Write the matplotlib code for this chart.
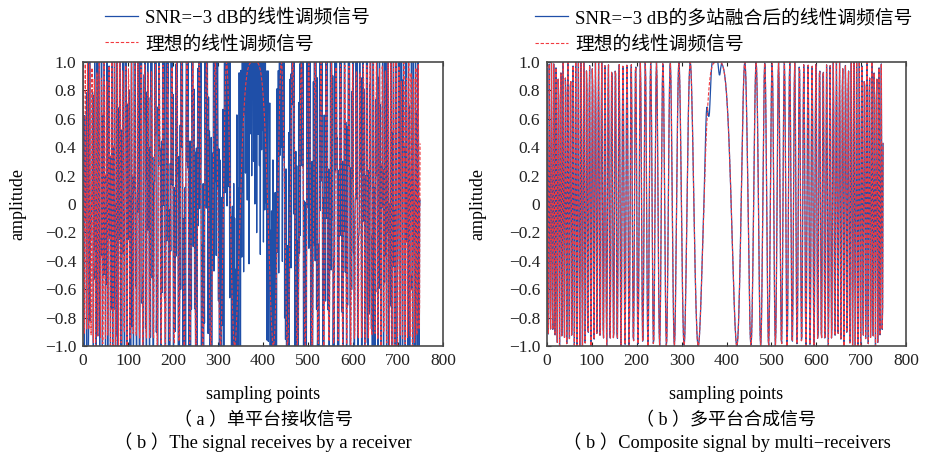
"""Single-receiver vs. multi-receiver LFM signal comparison (two panels)."""

import matplotlib

matplotlib.use("Agg")
import matplotlib.pyplot as plt
import numpy as np

plt.rcParams["font.family"] = ["Liberation Serif", "Noto Sans CJK SC"]
plt.rcParams["axes.unicode_minus"] = True

# ---------------------------------------------------------------------------
# Signal data
# ---------------------------------------------------------------------------

N_SAMPLES = 750
CHIRP_CENTER = 380        # sample where the instantaneous frequency is zero
CHIRP_HALF_PERIOD = 43    # samples from the central peak to the first trough

# additive noise on the single receiver, in tenths of the unit amplitude
NOISE_SINGLE = [
    3, -7, 12, -2, 5, -11, 0, 8, -4, 6, -9, 14, -3, 1, -6, 10, -13, 4, 7, -1, -8, 2, 11, -5, 9, -12, 3, -2, 6, -7,
    -4, 13, -9, 0, 5, -6, 8, -15, 2, 7, -3, 10, -1, -8, 4, 12, -10, 6, -2, 9, -5, 1, -14, 3, 8, -7, 11, -4, 0, -9,
    7, -2, 5, -12, 9, 1, -6, 14, -3, -8, 6, 2, -11, 10, -5, 3, 8, -1, -13, 4, 12, -7, 0, 6, -9, 15, -4, 2, -6, 11,
    -3, 8, -10, 1, 6, -5, 13, -2, -7, 9, 4, -12, 0, 7, -4, 10, -8, 3, 5, -15, 2, 11, -6, -1, 8, -9, 12, -3, 6, -11,
    2, -5, 9, -7, 14, -1, -10, 4, 7, -3, 11, -8, 0, 5, -13, 6, 1, -4, 10, -6, 3, -9, 12, -2, 8, -11, 4, 0, -7, 13,
    -6, 10, -2, 4, -9, 7, -14, 3, 6, -1, 9, -5, 12, -8, 1, 5, -10, 8, -3, 15, -4, 0, 7, -12, 2, 11, -6, 4, -1, -9,
    8, -4, 1, -11, 6, 12, -7, 3, -2, 10, -13, 5, 0, -6, 9, -3, 14, -8, 2, -5, 7, -10, 4, 11, -1, -7, 6, -12, 3, 9,
    -2, 5, -8, 13, -4, 0, 7, -10, 11, -6, 2, 8, -15, 4, -1, 9, -5, 6, -11, 3, 12, -7, 1, -3, 10, -9, 5, -2, 14, -6,
    4, -9, 11, -3, 7, -12, 1, 6, -5, 10, -1, -8, 13, -4, 3, 8, -7, 0, 12, -10, 5, -2, 9, -14, 2, 6, -6, 11, -3, 1,
    -7, 12, -1, 5, -10, 3, 9, -4, -13, 7, 0, 11, -6, 4, -2, 14, -9, 1, 6, -5, 10, -11, 3, -8, 8, 2, -12, 5, -3, 9,
    6, -3, 10, -8, 1, 13, -5, 2, -11, 7, -4, 9, 0, -14, 5, 11, -7, 3, -1, 8, -10, 4, 12, -6, -2, 7, -9, 15, -4, 2,
    -10, 4, 7, -1, -6, 11, -3, 9, -12, 5, 2, -8, 14, -5, 0, 6, -9, 12, -2, 3, -13, 8, 1, -7, 10, -4, 5, -11, 7, -1,
    9, -6, 2, 12, -4, -9, 6, -1, 10, -14, 3, 7, -5, 0, 11, -8, 4, -2, 13, -7, 1, 8, -10, 5, -3, 9, -12, 2, 6, -5,
    -1, 11, -7, 4, -13, 8, 0, -5, 12, -3, 6, -10, 2, 9, -6, 15, -4, -1, 7, -11, 3, 10, -8, 1, -2, 12, -9, 5, -6, 8,
    3, -8, 13, -2, 6, -10, 1, 9, -7, 4, -12, 11, 0, -4, 7, -9, 2, 14, -5, -1, 10, -6, 5, -13, 8, -3, 1, 12, -8, 4,
    -5, 9, -1, -12, 7, 3, -8, 13, -4, 0, 10, -6, 5, -11, 2, 8, -3, 11, -9, 6, -1, -14, 4, 9, -5, 12, -2, 7, -10, 1,
    10, -4, 6, -9, 2, 14, -7, 1, -3, 11, -12, 5, 8, -1, -6, 9, -10, 3, 12, -5, 0, 7, -13, 4, -2, 10, -8, 6, -4, 13,
    -8, 2, 11, -5, 8, -1, -14, 6, 3, -9, 12, -3, 1, 7, -11, 4, 10, -6, -2, 13, -7, 5, 0, -10, 9, -4, 15, -1, 6, -12,
    5, -11, 3, 9, -6, 1, 12, -8, 4, -2, 7, -13, 10, 0, -5, 11, -3, 6, -9, 2, 14, -4, -7, 8, -1, 5, -10, 12, -6, 3,
    -3, 7, -12, 4, 10, -5, 0, 13, -8, 2, -6, 9, -1, -11, 6, 3, -9, 14, -4, 1, 8, -7, 11, -2, -13, 5, 10, -5, 2, -8,
    12, -6, 1, -10, 8, 4, -3, 11, -9, 6, -1, -14, 7, 2, -5, 10, -7, 3, 13, -2, -8, 5, 9, -11, 0, 6, -4, 12, -3, -7,
    4, -1, 9, -13, 5, 11, -6, 2, -9, 14, -4, 0, 7, -10, 3, 8, -2, -12, 10, -5, 6, 1, -8, 13, -3, 4, -11, 9, -1, 7,
    -9, 13, -3, 6, -1, -10, 8, 2, -7, 11, -5, 4, -13, 9, 0, -4, 12, -8, 5, 1, -6, 10, -2, -11, 7, 3, -9, 15, -5, 2,
    6, -10, 4, 1, -7, 12, -3, 9, -12, 5, 0, -6, 11, -1, 8, -14, 3, 7, -4, 10, -8, 2, 13, -6, -1, 9, -11, 4, 6, -3,
    -2, 8, -9, 11, -4, 3, -13, 7, 1, -6, 10, -2, 5, -10, 12, -7, 0, 4, -5, 9, -12, 6, 2, -8, 14, -3, 1, -9, 7, -4,
]

# residual left after multi-receiver fusion, in hundredths, starting at sample 350
FUSED_RESIDUAL_START = 350
FUSED_RESIDUAL = [
    0, 3, 7, 11, 14, 15, 12, 6, -2, -10, -16, -20, -21, -18, -13, -7, -2, 1, 3, 3,
    2, 1, 0, 0, 0, 0, 0, 1, 2, 2, 1, -1, -4, -7, -9, -9, -7, -4, -2, 0,
    0, 0, 0, 0, 0, 0, 0, 0, 0, 0,
]

X_TICKS = [0, 100, 200, 300, 400, 500, 600, 700, 800]
Y_TICKS = [-1.0, -0.8, -0.6, -0.4, -0.2, 0, 0.2, 0.4, 0.6, 0.8, 1.0]

LEGEND_NOISY = ["SNR=\u22123 dB的线性调频信号", "SNR=\u22123 dB的多站融合后的线性调频信号"]
LEGEND_IDEAL = "理想的线性调频信号"
CAPTIONS_CN = ["（ a ）单平台接收信号", "（ b ）多平台合成信号"]
CAPTIONS_EN = ["（ b ）The signal receives by a receiver", "（ b ）Composite signal by multi\u2212receivers"]

BLUE = "#1f4fa8"
RED = "#f23a3f"
SPINE = "#4a4a4a"

# ---------------------------------------------------------------------------
# Build series
# ---------------------------------------------------------------------------

n = np.arange(N_SAMPLES)
ideal = np.cos(np.pi * ((n - CHIRP_CENTER) / CHIRP_HALF_PERIOD) ** 2)

single = ideal + np.asarray(NOISE_SINGLE, dtype=float) / 10.0

fused = ideal.copy()
res = np.asarray(FUSED_RESIDUAL, dtype=float) / 100.0
fused[FUSED_RESIDUAL_START:FUSED_RESIDUAL_START + len(res)] += res

# ---------------------------------------------------------------------------
# Figure
# ---------------------------------------------------------------------------

W, H = 926, 458
fig = plt.figure(figsize=(W / 100, H / 100), dpi=100)

panels = [
    (single, (83, 443), 18, 105),
    (fused, (547, 906), 478, 535),
]

for i, (noisy, (x0, x1), ylab_x, leg_x) in enumerate(panels):
    top, bottom = 62, 346
    ax = fig.add_axes([x0 / W, 1 - bottom / H, (x1 - x0) / W, (bottom - top) / H])

    ax.plot(n, noisy, color=BLUE, lw=0.9, label=LEGEND_NOISY[i])
    ax.plot(n, ideal, color=RED, lw=0.8, ls=(0, (3, 1.6)), label=LEGEND_IDEAL)

    ax.set_xlim(0, 800)
    ax.set_ylim(-1, 1)
    ax.set_xticks(X_TICKS)
    ax.set_yticks(Y_TICKS)
    ax.set_yticklabels([f"{v:.1f}".replace("-", "\u2212") if v != 0 else "0" for v in Y_TICKS])
    ax.tick_params(direction="in", length=3, width=0.8, top=True, right=False,
                   labelsize=12.5, pad=5, colors="#222222")
    for sp in ax.spines.values():
        sp.set_color(SPINE)
        sp.set_linewidth(1.2)

    ax.set_xlabel("sampling points", fontsize=13, labelpad=12)
    fig.text(ylab_x / W, 1 - 204 / H, "amplitude", rotation=90, fontsize=13,
             ha="center", va="center")

    cx = (x0 + x1) / 2 / W
    fig.text(cx, 1 - 421 / H, CAPTIONS_CN[i], fontsize=13, ha="center", va="center")
    fig.text(cx, 1 - 442 / H, CAPTIONS_EN[i], fontsize=13.2, ha="center", va="center")

    handles, labels = ax.get_legend_handles_labels()
    fig.legend(handles, labels, loc="upper left", bbox_to_anchor=(leg_x / W, 1 - 9 / H),
               frameon=False, fontsize=13.5, handlelength=1.75, handletextpad=0.4,
               labelspacing=0.45, borderpad=0, borderaxespad=0)

fig.savefig("out.png", dpi=100)
